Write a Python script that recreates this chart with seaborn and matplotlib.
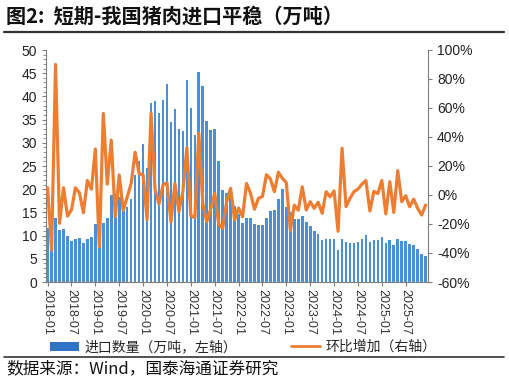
import numpy as np
import pandas as pd
import matplotlib
matplotlib.use("Agg")
import matplotlib.pyplot as plt
from matplotlib.lines import Line2D
from matplotlib.patches import Patch
from matplotlib.ticker import MultipleLocator, FuncFormatter
import seaborn as sns

sns.set_style("ticks")
plt.rcParams['font.family'] = ['Liberation Sans', 'Noto Sans CJK SC', 'DejaVu Sans']
cjk = ['Noto Sans CJK SC', 'DejaVu Sans']

# monthly data, 2018-01 .. 2025-12
months = pd.date_range("2018-01-01", periods=96, freq="MS").strftime("%Y-%m")

# pork imports (10k tonnes, left axis)
import_vol = [11.7, 6.8, 13.7, 11.1, 11.5, 9.9, 8.8, 9.3, 9.4, 8.3, 9.2, 9.6,
              12.6, 8.1, 12.7, 13.7, 18.8, 14.1, 18.4, 15.4, 16.2, 17.8, 23.0, 26.1,
              29.8, 24.5, 38.5, 39.0, 36.5, 39.2, 42.6, 34.5, 37.3, 33.0, 32.6, 43.5,
              37.4, 31.7, 45.2, 42.2, 34.7, 32.7, 33.0, 26.1, 19.8, 19.1, 19.5, 16.4,
              14.6, 12.7, 13.7, 13.9, 12.5, 12.2, 12.2, 13.9, 15.3, 15.5, 17.9, 20.0,
              16.2, 15.0, 13.6, 13.5, 14.2, 12.9, 12.1, 11.0, 10.3, 9.1, 9.3, 9.2,
              9.3, 7.0, 9.3, 8.6, 8.3, 8.4, 8.7, 9.2, 10.1, 8.7, 9.0, 9.0,
              9.8, 8.3, 9.0, 7.9, 9.3, 8.8, 8.8, 8.1, 7.9, 7.1, 6.1, 5.7]

# month-on-month change (%, right axis)
mom_pct = [5, -38, 90, -19.5, 5, -14.5, -10.3, 5, 1.5, -12.2, 10, 4,
           31.7, -35.7, 56.3, 7.5, 37.9, -15, 13.8, -10.5, -1.5, 8, 29.5, 14.7,
           14, -17, 56.5, 4, -6.3, 6.9, 8.5, -18.5, 8, -11.5, 2.3, 32.6,
           -14.3, -15.7, 42.5, -6, -18.4, -9.7, 1.2, -20.2, -23, -4.6, 4.6, -17.2,
           -9, -15, 8, 1.2, -9.8, -2.3, -1, 14, 11, 2.3, 15.7, 11.5,
           8.5, -24.5, -7, -10.5, 5.7, -10.3, -4.6, -9.2, -5, -12.6, 2.3, -1.2,
           2.8, -25, 32.3, -8, -2.3, 2.3, 4.1, 7.5, 10, -11, 2.5, 1,
           10, -13, 9.2, -12, 16.8, -4.6, -0.5, -8.1, -2.8, -9.2, -13.8, -7]

tick_labels = list(months[::6])

df = pd.DataFrame({"month": months, "import_vol": import_vol, "mom": mom_pct})
df["pos"] = np.arange(len(df))

bar_color = "#4a8fd8"
line_color = "#ed7d31"
spine_color = "#7f7f7f"

fig = plt.figure(figsize=(5.09, 3.82), dpi=100)
ax = fig.add_axes([46 / 509, 1 - 282 / 382, (428 - 46) / 509, (282 - 50) / 382])

sns.barplot(data=df, x="month", y="import_vol", color=bar_color, width=0.66,
            saturation=1, edgecolor="none", linewidth=0, ax=ax)

ax2 = ax.twinx()
sns.lineplot(data=df, x="pos", y="mom", color=line_color, linewidth=2.3, ax=ax2)

ax.set_xlim(-0.4, 95.6)
ax.set_ylim(0, 50)
ax2.set_ylim(-60, 100)

ax.set_xticks(range(0, 96, 6))
ax.set_xticklabels(tick_labels, rotation=270, fontsize=9, color="#333333")
ax.yaxis.set_major_locator(MultipleLocator(5))
ax.yaxis.set_minor_locator(MultipleLocator(1))
ax.tick_params(axis="y", which="major", labelsize=10, length=3, color=spine_color, labelcolor="#222222")
ax.tick_params(axis="y", which="minor", length=2, color=spine_color)
ax.tick_params(axis="x", length=3, color=spine_color, pad=2)

ax2.yaxis.set_major_locator(MultipleLocator(20))
ax2.yaxis.set_major_formatter(FuncFormatter(lambda v, p: f"{v:.0f}%"))
ax2.tick_params(axis="y", labelsize=10, length=3, color=spine_color, labelcolor="#222222")

for a in (ax, ax2):
    a.set_xlabel("")
    a.set_ylabel("")
    a.spines["top"].set_visible(False)
    for s in a.spines.values():
        s.set_color(spine_color)
ax.spines["right"].set_visible(False)
ax2.spines["left"].set_visible(False)
ax2.spines["bottom"].set_visible(False)

# legend below the axis labels
handles = [Patch(facecolor="#2e75c8", edgecolor="none"),
           Line2D([], [], color=line_color, linewidth=2)]
labels = ["进口数量（万吨，左轴）", "环比增加（右轴）"]
fig.legend(handles, labels, loc="center", bbox_to_anchor=(0.478, 1 - 347 / 382), ncol=2,
           frameon=False, handlelength=2.1, handleheight=0.6, handletextpad=0.4,
           columnspacing=3.9, prop={"family": cjk, "size": 10})

# title, rules and source note
fig.text(0.012, 1 - 16 / 382, "图2:  短期-我国猪肉进口平稳（万吨）", fontsize=14.5,
         fontweight="bold", family=cjk, va="center", color="#111111")
fig.add_artist(Line2D([0.008, 0.99], [1 - 32 / 382] * 2, color="#333333", linewidth=1.6))
fig.add_artist(Line2D([0.008, 0.99], [1 - 357 / 382] * 2, color="#333333", linewidth=1.2))
fig.text(0.012, 1 - 369 / 382, "数据来源：Wind，国泰海通证券研究", fontsize=12,
         family=cjk, va="center", color="#111111")

fig.savefig("out.png", dpi=100)
